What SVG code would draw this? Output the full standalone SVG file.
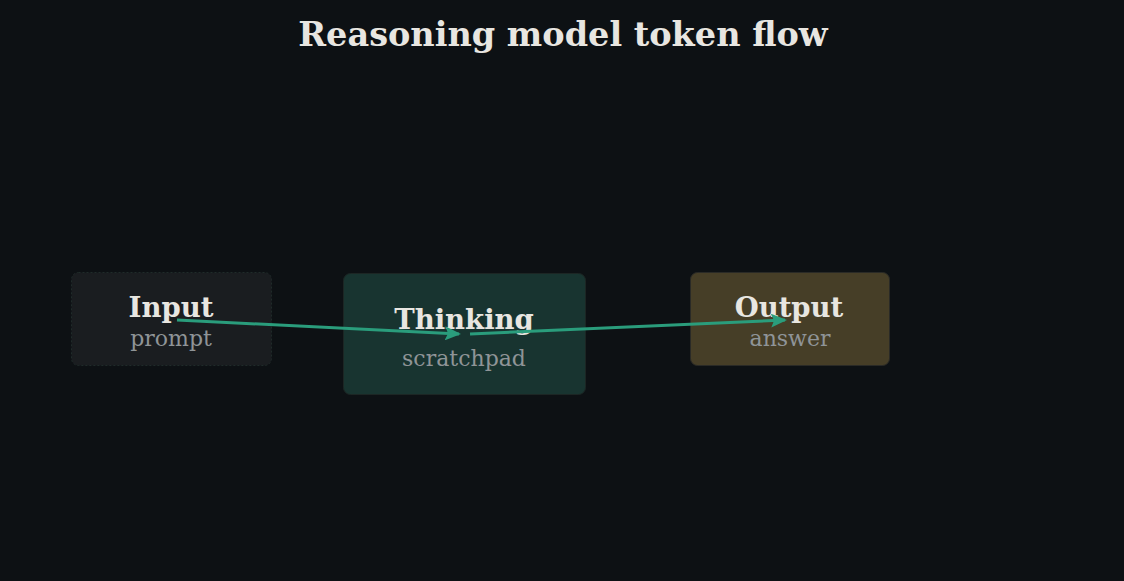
<svg xmlns="http://www.w3.org/2000/svg" width="1124" height="581" viewBox="0 0 1124 581">
<style>
.t{font-family:"DejaVu Serif",serif;font-weight:bold;fill:#e8e6e1;text-anchor:middle;font-size:27.5px}
.s{font-family:"DejaVu Serif",serif;fill:#8f9497;text-anchor:middle;font-size:22px}
.e{stroke:#2a9d7c;stroke-width:3;fill:none}
</style>
<defs>
<marker id="ah" markerWidth="16" markerHeight="14" refX="14" refY="7" orient="auto" markerUnits="userSpaceOnUse" viewBox="0 0 16 14">
<path d="M0,0 L16,7 L0,14 L3,7 Z" fill="#2a9d7c"/>
</marker>
</defs>
<rect width="1124" height="581" fill="#0d1114"/>
<text class="t" x="563" y="46" style="font-size:33.5px">Reasoning model token flow</text>
<g id="input">
<rect x="71.5" y="272.5" width="200" height="93" rx="7" fill="#1a1d20" stroke="#1f2b29" stroke-dasharray="2 2"/>
<text class="t" x="171" y="317">Input</text>
<text class="s" x="171" y="346">prompt</text>
</g>
<g id="thinking">
<rect x="343.5" y="273.5" width="242" height="121" rx="7" fill="#183430" stroke="#1c2624"/>
<text class="t" x="464" y="329">Thinking</text>
<text class="s" x="464" y="366">scratchpad</text>
</g>
<g id="output">
<rect x="690.5" y="272.5" width="199" height="93" rx="7" fill="#463e27" stroke="#2a2a26"/>
<text class="t" x="789" y="317">Output</text>
<text class="s" x="790" y="346">answer</text>
</g>
<g id="connectors">
<line class="e" x1="177" y1="320" x2="459" y2="334" marker-end="url(#ah)"/>
<line class="e" x1="470" y1="334" x2="785" y2="320" marker-end="url(#ah)"/>
</g>
</svg>
